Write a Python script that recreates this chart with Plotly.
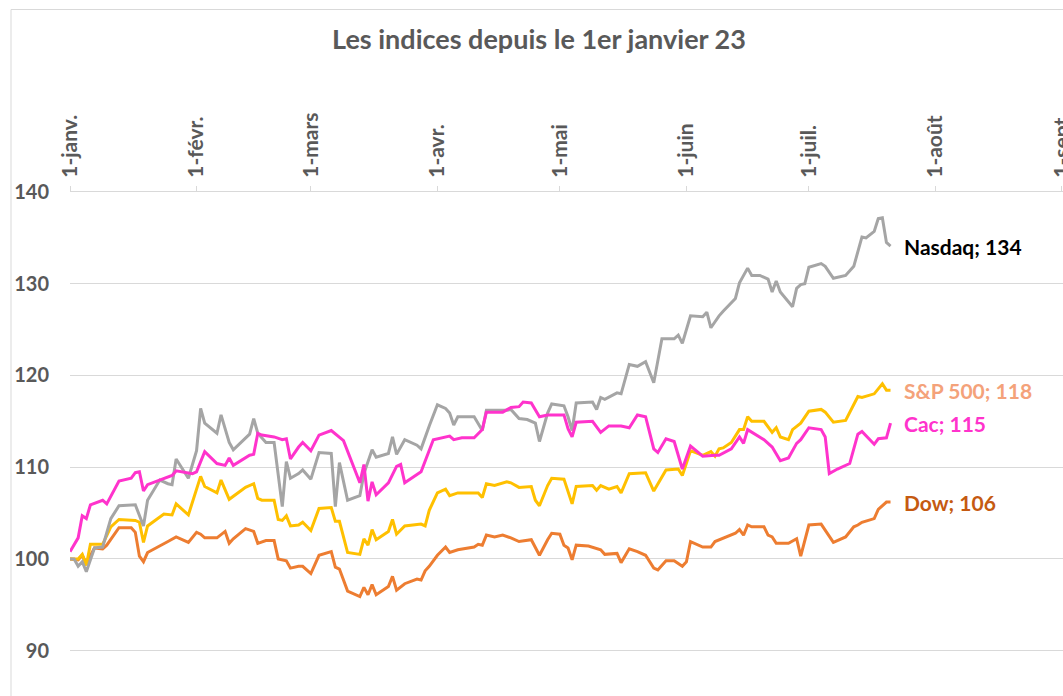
import plotly.graph_objects as go
import pandas as pd

START = pd.Timestamp("2023-01-01")

# ---- data (day offset from 1 Jan 2023, index base 100) ----
cac_days = [0,2,3,4,5,8,9,12,15,16,17,18,19,23,25,26,30,31,33,36,38,39,40,44,45,46,47,50,52,53,54,56,57,59,61,64,66,67,71,72,73,74,75,78,80,81,82,86,89,93,94,96,99,101,102,106,108,110,111,113,115,117,121,122,123,124,128,130,132,135,137,139,141,143,144,146,148,150,152,155,158,159,162,164,165,166,170,172,174,176,178,179,181,184,185,186,188,191,193,194,197,198,200,201]
cac_vals = [100.8,102.3,104.7,104.4,105.9,106.4,106.0,108.5,108.8,109.4,109.5,107.4,108.1,108.8,109.1,109.6,109.3,109.5,111.7,110.4,110.2,111.0,110.2,111.3,111.4,113.7,113.5,113.3,113.0,113.1,110.9,112.2,112.7,111.8,113.5,114.0,113.3,112.9,108.3,110.3,106.3,108.4,107.0,108.3,110.1,110.3,108.3,109.5,113.0,113.4,113.0,113.2,113.2,114.1,116.0,116.0,116.5,116.6,117.1,117.0,115.5,115.7,115.7,114.2,113.3,114.9,115.0,113.8,114.5,114.5,114.3,115.7,115.5,112.0,111.6,113.1,112.8,109.8,112.3,111.2,111.3,111.3,112.0,113.3,112.6,114.1,113.0,112.2,110.7,111.0,112.6,113.0,114.3,114.1,113.3,109.3,109.8,110.4,113.6,113.9,112.5,113.1,113.2,114.8]

sp_days = [0,2,3,4,5,8,10,12,16,17,18,19,23,25,26,29,32,33,36,37,39,40,43,45,46,47,50,51,52,53,54,56,57,59,61,64,65,66,68,71,72,73,74,75,78,79,80,82,86,87,88,90,92,93,95,100,101,102,104,107,108,110,113,114,115,117,118,121,122,123,124,128,129,130,132,134,135,137,141,143,146,149,150,152,155,157,158,159,160,162,164,165,166,167,170,172,173,174,176,177,179,181,184,185,187,190,193,194,197,199,200,201]
sp_vals = [100,100,100.5,99.3,101.6,101.6,103.5,104.3,104.2,104.0,101.8,103.6,104.9,104.8,106.0,104.8,109.0,107.9,107.2,108.6,106.5,106.8,107.8,108.2,106.6,106.4,106.4,104.3,104.2,104.7,103.6,103.7,104.0,103.1,105.5,105.6,104.1,104.1,100.7,100.5,102.2,101.5,103.2,102.1,103.0,104.3,102.7,103.6,103.8,103.6,105.3,107.2,107.6,106.9,107.2,107.2,106.7,108.2,108.0,108.4,108.3,107.8,107.9,106.4,105.8,108.0,108.8,108.7,107.3,106.0,107.9,108.0,107.5,108.0,107.6,107.9,107.2,109.3,109.4,107.4,109.7,109.8,109.1,111.8,111.3,111.7,111.2,112.0,112.1,112.7,114.1,114.1,115.5,115.0,115.0,113.8,114.3,113.3,113.0,114.1,114.8,116.1,116.3,116.0,114.9,115.1,117.7,117.6,118.0,119.1,118.4,118.4]

nasdaq_days = [0,1,2,3,4,6,8,10,12,16,18,19,22,24,25,26,29,31,32,33,36,37,39,40,44,45,46,48,50,52,53,54,56,57,59,61,64,65,66,68,71,72,74,75,78,79,80,82,85,86,88,90,92,93,94,95,99,101,102,107,108,110,112,114,115,117,118,121,122,123,124,128,129,130,131,134,135,137,139,141,143,145,148,149,150,152,155,156,157,159,160,163,164,166,167,169,171,172,173,174,177,178,179,180,181,184,185,187,190,192,194,195,197,198,199,200,201]
nasdaq_vals = [100,100,99.2,99.7,98.6,101.2,101.3,104.4,105.8,105.9,103.6,106.4,108.6,108.2,108.1,110.9,108.8,111.8,116.4,114.8,113.7,115.7,112.7,111.9,113.6,115.3,113.7,112.7,112.7,105.7,110.6,108.8,109.3,109.7,108.7,111.6,111.5,105.7,110.5,106.4,106.9,109.3,111.9,111.1,111.5,113.3,111.4,113.0,112.4,112.0,114.5,116.8,116.4,115.9,114.6,115.5,115.5,114.0,116.2,116.2,116.3,115.3,115.2,114.8,112.8,115.9,116.9,116.7,115.5,114.0,117.0,117.1,116.3,117.6,117.4,118.1,118.0,121.2,121.0,121.5,119.2,124.0,124.0,124.4,123.5,126.5,126.4,126.9,125.2,126.5,127.0,128.4,130.1,131.7,130.9,130.9,130.5,129.1,130.3,129.1,127.5,129.5,129.9,130.0,131.8,132.2,131.9,130.6,130.9,131.9,135.1,135.0,135.7,137.1,137.2,134.5,134.1]

dow_days = [0,2,3,4,6,8,9,11,12,15,16,17,18,19,23,24,26,29,31,32,33,36,38,39,40,43,45,46,48,50,51,53,54,56,57,59,61,64,65,66,68,71,72,73,74,75,78,79,80,82,85,86,87,88,90,92,93,95,99,100,101,102,104,106,108,110,113,115,117,118,120,121,122,123,124,127,130,131,134,135,137,139,141,143,144,146,148,150,151,152,155,157,158,161,163,164,165,166,167,170,171,172,173,176,178,179,181,184,185,187,190,192,193,194,197,198,200,201]
dow_vals = [100,99.9,100.4,99.5,101.2,101.1,101.5,102.7,103.4,103.4,102.9,100.3,99.7,100.7,101.6,101.9,102.4,101.8,102.9,102.7,102.3,102.3,103.0,101.7,102.2,103.3,103.0,101.7,102.0,102.0,100.0,99.8,99.0,99.2,99.2,98.4,100.4,100.8,99.1,98.9,96.5,95.9,96.9,96.1,97.2,96.1,97.0,98.1,96.6,97.3,97.8,97.7,98.7,99.2,100.4,101.3,100.7,101.0,101.3,101.6,101.5,102.6,102.4,102.6,102.3,101.9,102.1,100.4,102.1,102.8,102.7,101.5,101.2,99.9,101.5,101.4,101.0,100.5,100.6,99.6,101.1,100.8,100.4,99.0,98.8,99.8,99.8,99.2,99.7,101.9,101.3,101.3,101.9,102.4,102.8,103.2,102.6,103.7,103.5,103.5,102.6,102.4,101.7,101.7,102.2,100.3,103.7,103.8,103.1,101.8,102.4,103.5,103.7,104.0,104.4,105.4,106.2,106.2]

month_ticks = ["2023-01-01","2023-02-01","2023-03-01","2023-04-01","2023-05-01",
               "2023-06-01","2023-07-01","2023-08-01","2023-09-01"]
month_labels = ["1-janv.","1-févr.","1-mars","1-avr.","1-mai","1-juin","1-juil.","1-août","1-sept."]
y_ticks = [90, 100, 110, 120, 130, 140]

series = [
    # name, days, values, line colour, label colour
    ("Dow", dow_days, dow_vals, "#ED7D31", "#C55A11"),
    ("S&P 500", sp_days, sp_vals, "#FFC000", "#F4A27A"),
    ("Nasdaq", nasdaq_days, nasdaq_vals, "#A5A5A5", "#000000"),
    ("Cac", cac_days, cac_vals, "#FF33CC", "#FF33CC"),
]

FONT = "Lato"
GRID = "#D9D9D9"
TXT = "#595959"

W, H = 1063, 696
ML, MR, MT, MB = 70, 0, 192, 0

fig = go.Figure()
for name, days, vals, col, lcol in series:
    dates = [START + pd.Timedelta(days=d) for d in days]
    fig.add_trace(go.Scatter(x=dates, y=vals, mode="lines", name=name,
                             line=dict(color=col, width=3), showlegend=False,
                             hoverinfo="skip"))
    fig.add_annotation(x=dates[-1], y=vals[-1], text=f"<b>{name}; {round(vals[-1])}</b>",
                       showarrow=False, xanchor="left", yanchor="middle", xshift=11,
                       font=dict(family=FONT, size=21, color=lcol))

plot_w = W - ML - MR
plot_h = H - MT - MB
# chart-area border (top and left edges visible)
fig.add_shape(type="line", xref="paper", yref="paper",
              x0=(11 - ML) / plot_w, x1=1.1, y0=1 + (MT - 9.5) / plot_h, y1=1 + (MT - 9.5) / plot_h,
              line=dict(color=GRID, width=1))
fig.add_shape(type="line", xref="paper", yref="paper",
              x0=(11 - ML) / plot_w, x1=(11 - ML) / plot_w, y0=-0.1, y1=1 + (MT - 9.5) / plot_h,
              line=dict(color=GRID, width=1))

fig.update_layout(
    width=W, height=H,
    margin=dict(l=ML, r=MR, t=MT, b=MB, autoexpand=False),
    paper_bgcolor="white", plot_bgcolor="white",
    title=dict(text="<b>Les indices depuis le 1er janvier 23</b>", x=(333 + 745) / 2 / W,
               xanchor="center", y=1 - 40 / H, yanchor="middle", yref="container",
               font=dict(family=FONT, size=27, color=TXT)),
    xaxis=dict(type="date", side="top", range=["2023-01-01", "2023-09-01 06:00"],
               tickvals=month_ticks, ticktext=month_labels, tickangle=-90,
               ticks="outside", ticklen=5, tickcolor=GRID, tickwidth=1,
               showline=True, linecolor=GRID, linewidth=1, showgrid=False,
               zeroline=False, ticklabelstandoff=4, automargin=False,
               ticklabeloverflow="allow",
               tickfont=dict(family=FONT, size=21, color=TXT)),
    yaxis=dict(range=[100 - (H - 559) / 9.17, 140], tickvals=y_ticks,
               showgrid=True, gridcolor=GRID, gridwidth=1, zeroline=False,
               showline=False, ticks="", ticklabelstandoff=20, automargin=False,
               tickfont=dict(family=FONT, size=20, color=TXT)),
)
fig.update_xaxes(tickfont_weight="bold")
fig.update_yaxes(tickfont_weight="bold")

fig.write_html("out.html", config={"displayModeBar": False},
               post_script="document.body.style.margin='0';document.body.style.overflow='hidden';")
